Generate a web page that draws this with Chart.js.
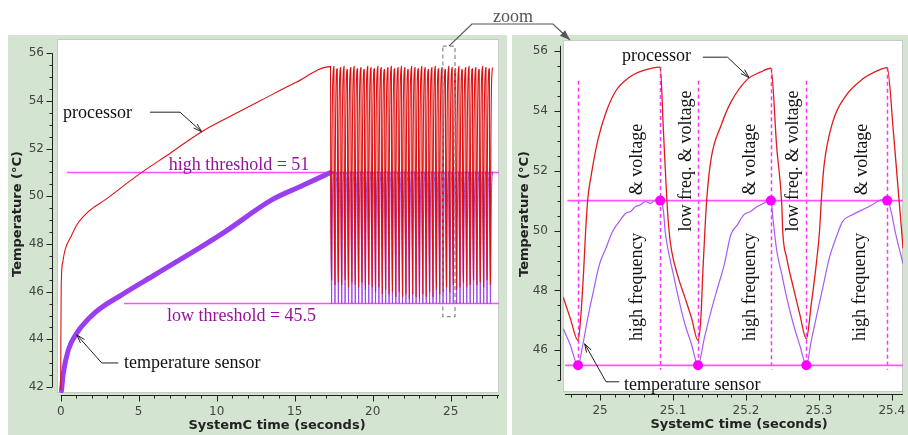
<!DOCTYPE html>
<html>
<head>
<meta charset="utf-8">
<title>Processor and sensor temperature</title>
<script src="https://cdn.jsdelivr.net/npm/chart.js@4.4.1/dist/chart.umd.min.js"></script>
<style>
  body { margin: 0; background: #fff; }
  #page { position: relative; width: 908px; height: 435px; overflow: hidden; }
  .panel { position: absolute; top: 35px; height: 400px; background: #d3e4d1; }
  #leftPanel { left: 8px; width: 499px; }
  #rightPanel { left: 512px; width: 396px; }
  #overlay { position: absolute; left: 0; top: 0; pointer-events: none; }
  #zoomLabel { position: absolute; left: 473px; top: 7px; width: 80px; text-align: center;
    font: 18px/18px "Liberation Serif", serif; color: #555; }
</style>
</head>
<body>
<div id="page">
  <div class="panel" id="leftPanel"><canvas id="leftChart"></canvas></div>
  <div class="panel" id="rightPanel"><canvas id="rightChart"></canvas></div>
  <canvas id="overlay" width="908" height="435"></canvas>
  <div id="zoomLabel">zoom</div>
</div>
<script>
// tick labels
const leftTimeTicks = [0, 5, 10, 15, 20, 25];
const leftTempTicks = [42, 44, 46, 48, 50, 52, 54, 56];
const rightTimeTicks = [25, 25.1, 25.2, 25.3, 25.4];
const rightTempTicks = [46, 48, 50, 52, 54, 56];

// controller thresholds (°C)
const highThreshold = 51;
const lowThreshold = 45.5;

// left panel: warm-up from a cold start (s, °C)
const cpuRampT = [0, 0.01, 0.03, 0.06, 0.15, 0.28, 0.71, 1.03, 1.77, 2.84, 4.97, 7.0, 9.04, 11.0, 12.88, 15.0, 17.3];
const cpuRampC = [41.9, 44.0, 46.0, 46.8, 47.3, 47.75, 48.38, 48.8, 49.36, 49.85, 50.9, 51.8, 52.71, 53.4, 54.04, 54.75, 55.44];
const sensorRampT = [0.05, 0.17, 0.49, 1.03, 2.2, 3.91, 6.04, 8.18, 10.5, 13.53, 15.5, 17.3];
const sensorRampC = [41.85, 42.59, 43.56, 44.26, 45.12, 45.87, 46.71, 47.55, 48.5, 49.85, 50.45, 51.0];

// left panel: switching phase, one entry per spike
const burstStart = 17.3;
const burstEnd = 27.7;
const burstCpuLow = [
  46.5, 46.3, 46.4, 46.3, 46.5, 46.2, 46.4, 46.3, 46.2, 46.4,
  46.1, 46.3, 46.2, 46.0, 46.2, 45.9, 46.1, 45.9, 46.0, 45.8,
  46.0, 45.8, 45.9, 45.7, 45.9, 45.8, 45.7, 45.9, 45.8, 46.0,
  45.8, 46.1, 45.9, 46.0, 46.2, 46.0, 46.3, 46.1, 46.2, 46.4,
  46.2, 46.3, 46.5, 46.3, 46.4, 46.2, 46.5, 46.3];
const burstCpuPeak = [
  55.45, 55.35, 55.4, 55.45, 55.3, 55.4, 55.45, 55.35, 55.4, 55.3,
  55.45, 55.4, 55.35, 55.45, 55.4, 55.3, 55.4, 55.45, 55.35, 55.4,
  55.45, 55.4, 55.3, 55.45, 55.4, 55.35, 55.45, 55.4, 55.3, 55.4,
  55.45, 55.35, 55.4, 55.3, 55.45, 55.4, 55.35, 55.45, 55.3, 55.4,
  55.45, 55.35, 55.4, 55.3, 55.45, 55.4, 55.35, 55.4];

// threshold segments as drawn (s)
const leftHighLineT = [0.4, 28.1];
const leftLowLineT = [4.06, 28.1];
const rightHighLineT = [24.955, 25.4153];
const rightLowLineT = [24.952, 25.4153];

// dashed box marking the zoomed window on the left panel
const zoomBoxT = [24.5, 25.28];
const zoomBoxC = [44.95, 56.3];

// right panel: zoom on 24.95 s .. 25.42 s
const zoomCpuT = [24.9495, 24.9592, 24.9697,
  24.9734, 24.9774, 24.9801, 24.9832, 24.9878, 24.9968, 25.0081, 25.0216, 25.0396, 25.0576, 25.0824,
  25.0869, 25.0914, 25.0946, 25.0981, 25.1072, 25.1162, 25.1251, 25.1342,
  25.1382, 25.1409, 25.1436, 25.1463, 25.1522, 25.1657, 25.1792, 25.2018, 25.2197, 25.2342,
  25.2423, 25.2491, 25.2504, 25.2558, 25.2649, 25.2738, 25.2828,
  25.2896, 25.2964, 25.3008, 25.3038, 25.3072, 25.3189, 25.3369, 25.3595, 25.3797, 25.3936,
  25.4022, 25.4089, 25.4135, 25.4153];
const zoomCpuC = [47.77, 47.06, 46.33,
  47.1, 48.65, 49.97, 51.08, 51.85, 53.01, 53.95, 54.67, 55.11, 55.33, 55.46,
  53.28, 51.08, 49.97, 49.31, 48.43, 47.77, 47.1, 46.33,
  47.1, 48.65, 49.97, 51.08, 52.4, 53.5, 54.28, 55.05, 55.29, 55.42,
  52.73, 50.86, 49.97, 49.09, 48.1, 47.2, 46.38,
  47.56, 48.88, 49.97, 51.2, 52.2, 53.62, 54.5, 55.05, 55.33, 55.44,
  53.28, 51.3, 49.97, 49.4];
const zoomSensorT = [24.9495, 24.9585, 24.9697,
  24.9765, 24.9832, 24.99, 24.9991, 25.0081, 25.017, 25.0261, 25.0351, 25.0419, 25.0486, 25.0554, 25.0622, 25.0689, 25.0757, 25.0824,
  25.0869, 25.0892, 25.0936, 25.1004, 25.1072, 25.1162, 25.1251, 25.1342,
  25.1432, 25.1522, 25.1612, 25.1703, 25.1792, 25.1882, 25.1973, 25.2062, 25.2153, 25.2243, 25.2342,
  25.2369, 25.2423, 25.2491, 25.2558, 25.2649, 25.2738, 25.2828,
  25.2896, 25.2964, 25.3054, 25.3143, 25.3234, 25.3324, 25.3459, 25.3595, 25.373, 25.3842, 25.3936,
  25.4, 25.4045, 25.4153];
const zoomSensorC = [46.72, 46.22, 45.5,
  46.22, 47.1, 47.88, 48.87, 49.42, 49.97, 50.3, 50.58, 50.64, 50.8, 50.86, 50.97, 50.91, 51.02, 51.04,
  50.64, 49.97, 49.31, 48.54, 47.77, 46.88, 46.22, 45.5,
  46.44, 47.32, 48.1, 48.87, 49.86, 50.19, 50.53, 50.64, 50.8, 50.91, 51.04,
  50.41, 49.31, 48.54, 47.77, 46.88, 46.17, 45.5,
  46.33, 47.1, 48.1, 49.09, 49.75, 50.3, 50.53, 50.69, 50.86, 51.02, 51.04,
  50.53, 49.97, 48.9];

// frequency switches: time, sensor reading, top of the dashed marker
const switchT = [24.9697, 25.0824, 25.1342, 25.2342, 25.2828, 25.3936];
const switchC = [45.5, 51, 45.5, 51, 45.5, 51];
const switchLineTop = [55.0, 55.46, 55.0, 55.42, 55.0, 55.44];

Chart.defaults.font.family = '"DejaVu Sans", sans-serif';

const pts = (ts, vs) => ts.map((t, i) => ({x: t, y: vs[i]}));

// One switching cycle as seen in the zoom panel (first full cycle),
// reused as the shape of each spike of the left panel.
// cpu: index 2 = low, 13 = peak, 21 = next low; sensor: 2, 17, 25.
function cycleShape(ts, vs, lo, hi, lo2) {
  const fall = [], rise = [];
  for (let k = hi + 1; k <= lo2; k++) fall.push([ts[k] - ts[hi], vs[k]]);
  const fallLen = ts[lo2] - ts[hi];
  for (let k = lo + 1; k <= hi; k++) rise.push([fallLen + ts[k] - ts[lo], vs[k]]);
  return {pts: fall.concat(rise), len: fallLen + ts[hi] - ts[lo], nFall: fall.length};
}
const cpuCycle = cycleShape(zoomCpuT, zoomCpuC, 2, 13, 21);
const sensorCycle = cycleShape(zoomSensorT, zoomSensorC, 2, 17, 25);

// left panel point lists
const cpuLeft = pts(cpuRampT, cpuRampC);
const sensorBurst = [{x: burstStart, y: highThreshold}];
const period = (burstEnd - burstStart) / burstCpuLow.length;
burstCpuLow.forEach((low, i) => {
  const t0 = burstStart + i * period;
  const kc = period / cpuCycle.len, ks = period / sensorCycle.len;
  cpuCycle.pts.forEach(([dt, v], j) => {
    let y = v;
    if (j === cpuCycle.nFall - 1) y = low;
    if (j === cpuCycle.pts.length - 1) y = burstCpuPeak[i];
    cpuLeft.push({x: t0 + dt * kc, y});
  });
  sensorCycle.pts.forEach(([dt, v]) => sensorBurst.push({x: t0 + dt * ks, y: v}));
});

const line = (data, color, width, extra) =>
  Object.assign({data, borderColor: color, borderWidth: width, pointRadius: 0, fill: false}, extra || {});
const smooth = {cubicInterpolationMode: 'monotone'};

const serif = '18px "Liberation Serif", serif';

// white plot box, axes with minor ticks, annotations
const decor = {
  id: 'decor',
  beforeDraw(chart) {
    const {ctx, chartArea: a} = chart;
    ctx.save();
    ctx.fillStyle = '#fff';
    ctx.fillRect(a.left, a.top, a.width, a.height);
    ctx.strokeStyle = '#c5cbc5';
    ctx.lineWidth = 1;
    ctx.strokeRect(a.left + 0.5, a.top + 0.5, a.width - 1, a.height - 1);
    ctx.restore();
  },
  beforeDatasetsDraw(chart, args, o) {
    const {ctx, scales: {x, y}} = chart;
    ctx.save();
    ctx.strokeStyle = '#ff33ff';
    ctx.lineWidth = 1.5;
    ctx.setLineDash([4, 3]);
    (o.guides || []).forEach(g => {
      const px = Math.round(x.getPixelForValue(g.x)) + 0.5;
      ctx.beginPath();
      ctx.moveTo(px, y.getPixelForValue(g.top));
      ctx.lineTo(px, y.getPixelForValue(g.bottom));
      ctx.stroke();
    });
    ctx.restore();
  },
  afterDatasetsDraw(chart, args, o) {
    const {ctx, scales: {x, y}} = chart;
    const X = v => x.getPixelForValue(v), Y = v => y.getPixelForValue(v);
    ctx.save();
    if (o.box) {
      ctx.strokeStyle = '#888';
      ctx.lineWidth = 1.2;
      ctx.setLineDash([4, 3]);
      ctx.strokeRect(X(o.box.t[0]), Y(o.box.c[1]), X(o.box.t[1]) - X(o.box.t[0]), Y(o.box.c[0]) - Y(o.box.c[1]));
      ctx.setLineDash([]);
    }
    ctx.strokeStyle = '#222';
    ctx.lineWidth = 1;
    (o.leaders || []).forEach(l => {
      const p = l.map(([t, c]) => [X(t), Y(c)]);
      ctx.beginPath();
      p.forEach(([px, py], i) => i ? ctx.lineTo(px, py) : ctx.moveTo(px, py));
      ctx.stroke();
      const [x1, y1] = p[p.length - 2], [x2, y2] = p[p.length - 1];
      const ang = Math.atan2(y2 - y1, x2 - x1);
      ctx.beginPath();
      ctx.moveTo(x2 - 9 * Math.cos(ang - 0.3), y2 - 9 * Math.sin(ang - 0.3));
      ctx.lineTo(x2, y2);
      ctx.lineTo(x2 - 9 * Math.cos(ang + 0.3), y2 - 9 * Math.sin(ang + 0.3));
      ctx.stroke();
    });
    (o.notes || []).forEach(n => {
      ctx.save();
      ctx.translate(X(n.x), Y(n.y));
      if (n.rot) ctx.rotate(n.rot * Math.PI / 180);
      ctx.font = serif;
      ctx.fillStyle = n.color || '#111';
      ctx.textAlign = n.align || 'left';
      ctx.textBaseline = n.base || 'alphabetic';
      ctx.fillText(n.text, 0, 0);
      ctx.restore();
    });
    ctx.restore();
  },
  afterDraw(chart, args, o) {
    const {ctx, chartArea: a, scales: {x, y}} = chart;
    const ax = o.axes;
    const near = (list, v) => list.some(t => Math.abs(t - v) < 1e-6);
    ctx.save();
    ctx.strokeStyle = '#222';
    ctx.lineWidth = 1;
    // y axis
    const yx = Math.round(a.left - ax.yGap) + 0.5;
    ctx.beginPath();
    ctx.moveTo(yx, y.getPixelForValue(ax.yLine[0]));
    ctx.lineTo(yx, y.getPixelForValue(ax.yLine[1]));
    let n = Math.round((ax.yRange[1] - ax.yRange[0]) / ax.yMinor);
    for (let k = 0; k <= n; k++) {
      const v = ax.yRange[0] + k * ax.yMinor;
      const py = Math.round(y.getPixelForValue(v)) + 0.5;
      ctx.moveTo(yx - (near(ax.yMajor, v) ? 6 : 3), py);
      ctx.lineTo(yx, py);
    }
    // x axis
    const xy = Math.round(a.bottom + ax.xGap) + 0.5;
    ctx.moveTo(x.getPixelForValue(ax.xLine[0]), xy);
    ctx.lineTo(x.getPixelForValue(ax.xLine[1]), xy);
    n = Math.round((ax.xRange[1] - ax.xRange[0]) / ax.xMinor);
    for (let k = 0; k <= n; k++) {
      const v = ax.xRange[0] + k * ax.xMinor;
      const px = Math.round(x.getPixelForValue(v)) + 0.5;
      ctx.moveTo(px, xy);
      ctx.lineTo(px, xy + (near(ax.xMajor, v) ? 6 : 3));
    }
    ctx.stroke();
    // axis titles
    ctx.font = 'bold 13px "DejaVu Sans", sans-serif';
    ctx.fillStyle = '#222';
    ctx.textAlign = 'center';
    ctx.textBaseline = 'middle';
    ctx.fillText('SystemC time (seconds)', o.xTitle[0], o.xTitle[1]);
    ctx.translate(o.yTitle[0], o.yTitle[1]);
    ctx.rotate(-Math.PI / 2);
    ctx.fillText('Temperature (°C)', 0, 0);
    ctx.restore();
  }
};

function makeScales(s) {
  const tickFont = {size: 12};
  return {
    x: {
      type: 'linear', min: s.xMin, max: s.xMax,
      afterBuildTicks: sc => { sc.ticks = s.xTicks.map(v => ({value: v})); },
      afterFit: sc => { sc.height = s.xHeight; sc.paddingLeft = 0; sc.paddingRight = 0; },
      grid: {display: false, drawTicks: true, tickLength: 9},
      border: {display: false},
      ticks: {font: tickFont, color: '#444', padding: 3, maxRotation: 0, autoSkip: false, callback: v => String(v)}
    },
    y: {
      type: 'linear', min: s.yMin, max: s.yMax,
      afterBuildTicks: sc => { sc.ticks = s.yTicks.map(v => ({value: v})); },
      afterFit: sc => { sc.width = s.yWidth; sc.paddingTop = 0; sc.paddingBottom = 0; },
      grid: {display: false, drawTicks: true, tickLength: s.yTickLen},
      border: {display: false},
      ticks: {font: tickFont, color: '#444', padding: 3, autoSkip: false, callback: v => String(v)}
    }
  };
}

const common = {
  responsive: true,
  maintainAspectRatio: false,
  animation: false,
  events: [],
  normalized: true
};

// --- left: whole run ---
const leftChart = new Chart(document.getElementById('leftChart'), {
  type: 'line',
  data: {
    datasets: [
      line(cpuLeft, '#dd1111', 1.1, smooth),
      line(sensorBurst, '#9a44ee', 1.0, smooth),
      line(pts(sensorRampT, sensorRampC), '#9a3ff0', 5, Object.assign({borderCapStyle: 'round'}, smooth)),
      line(pts(leftHighLineT, [highThreshold, highThreshold]), '#ff4dff', 1.5),
      line(pts(leftLowLineT, [lowThreshold, lowThreshold]), '#ff4dff', 1.5)
    ]
  },
  options: Object.assign({}, common, {
    layout: {padding: {top: 4, right: 8, bottom: 0, left: 0}},
    plugins: {
      legend: {display: false},
      tooltip: {enabled: false},
      decor: {
        axes: {yGap: 5, yLine: [42, 56], yRange: [42, 56], yMinor: 0.5, yMajor: leftTempTicks,
               xGap: 2, xLine: [0, 28.1], xRange: [0, 28], xMinor: 1, xMajor: leftTimeTicks},
        xTitle: [269, 391],
        yTitle: [10, 179],
        box: {t: zoomBoxT, c: zoomBoxC},
        leaders: [
          [[5.72, 53.53], [7.65, 53.53], [9.04, 52.71]],
          [[3.69, 43.01], [2.63, 43.01], [1.03, 44.19]]
        ],
        notes: [
          {text: 'processor', x: 0.15, y: 53.28},
          {text: 'high threshold = 51', x: 11.43, y: 51.11, align: 'center', color: '#99139a'},
          {text: 'low threshold = 45.5', x: 11.59, y: 44.75, align: 'center', color: '#99139a'},
          {text: 'temperature sensor', x: 4.06, y: 42.8}
        ]
      }
    },
    scales: makeScales({xMin: -0.237, xMax: 28.1, xTicks: leftTimeTicks, xHeight: 42,
                        yMin: 41.75, yMax: 56.6, yTicks: leftTempTicks, yWidth: 49, yTickLen: 10})
  }),
  plugins: [decor]
});

// --- right: zoom on three switching cycles ---
const rightChart = new Chart(document.getElementById('rightChart'), {
  type: 'line',
  data: {
    datasets: [
      {data: pts(switchT, switchC), showLine: false, pointRadius: 5, pointBackgroundColor: '#ff00ff', pointBorderWidth: 0},
      line(pts(zoomCpuT, zoomCpuC), '#e01b1b', 1.3, smooth),
      line(pts(zoomSensorT, zoomSensorC), '#a65cf2', 1.2, smooth),
      line(pts(rightHighLineT, [highThreshold, highThreshold]), '#ff55ff', 1.8),
      line(pts(rightLowLineT, [lowThreshold, lowThreshold]), '#ff55ff', 1.8)
    ]
  },
  options: Object.assign({}, common, {
    layout: {padding: {top: 2, right: 0, bottom: 0, left: 0}},
    plugins: {
      legend: {display: false},
      tooltip: {enabled: false},
      decor: {
        axes: {yGap: 3, yLine: [45, 56.17], yRange: [45, 56], yMinor: 0.5, yMajor: rightTempTicks,
               xGap: 2, xLine: [24.9518, 25.4153], xRange: [24.96, 25.4], xMinor: 0.02, xMajor: rightTimeTicks},
        xTitle: [227, 390],
        yTitle: [13, 179],
        guides: switchT.map((t, i) => ({x: t, top: switchLineTop[i], bottom: 45.35})),
        leaders: [
          [[25.1409, 55.79], [25.1747, 55.79], [25.2041, 55.11]],
          [[25.0261, 44.95], [25.0081, 44.95], [24.9788, 46.22]]
        ],
        notes: [
          {text: 'processor', x: 25.03, y: 55.67},
          {text: 'temperature sensor', x: 25.0328, y: 44.68},
          {text: '& voltage', x: 25.0508, y: 52.37, rot: -90, align: 'center', base: 'middle'},
          {text: 'high frequency', x: 25.0508, y: 48.12, rot: -90, align: 'center', base: 'middle'},
          {text: 'low freq. & voltage', x: 25.1184, y: 52.32, rot: -90, align: 'center', base: 'middle'},
          {text: '& voltage', x: 25.2062, y: 52.37, rot: -90, align: 'center', base: 'middle'},
          {text: 'high frequency', x: 25.2062, y: 48.12, rot: -90, align: 'center', base: 'middle'},
          {text: 'low freq. & voltage', x: 25.2649, y: 52.32, rot: -90, align: 'center', base: 'middle'},
          {text: '& voltage', x: 25.3595, y: 52.37, rot: -90, align: 'center', base: 'middle'},
          {text: 'high frequency', x: 25.3572, y: 48.12, rot: -90, align: 'center', base: 'middle'}
        ]
      }
    },
    scales: makeScales({xMin: 24.9491, xMax: 25.4153, xTicks: rightTimeTicks, xHeight: 43,
                        yMin: 44.609, yMax: 56.364, yTicks: rightTempTicks, yWidth: 51, yTickLen: 12})
  }),
  plugins: [decor]
});

// connector from the dashed box to the zoom panel
const oc = document.getElementById('overlay').getContext('2d');
const sx = 8 + leftChart.scales.x.getPixelForValue((zoomBoxT[0] + zoomBoxT[1]) / 2);
const sy = 35 + leftChart.scales.y.getPixelForValue(zoomBoxC[1]);
const ex = 512 + rightChart.chartArea.left + 7;
const ey = 35 + rightChart.chartArea.top;
oc.strokeStyle = '#555';
oc.fillStyle = '#555';
oc.lineWidth = 1.2;
oc.beginPath();
oc.moveTo(sx, sy);
oc.lineTo(sx + 23, 24);
oc.lineTo(ex - 17, 24);
oc.lineTo(ex, ey);
oc.stroke();
const ang = Math.atan2(ey - 24, 17);
oc.beginPath();
oc.moveTo(ex, ey);
oc.lineTo(ex - 11 * Math.cos(ang - 0.35), ey - 11 * Math.sin(ang - 0.35));
oc.lineTo(ex - 11 * Math.cos(ang + 0.35), ey - 11 * Math.sin(ang + 0.35));
oc.closePath();
oc.fill();
</script>
</body>
</html>
